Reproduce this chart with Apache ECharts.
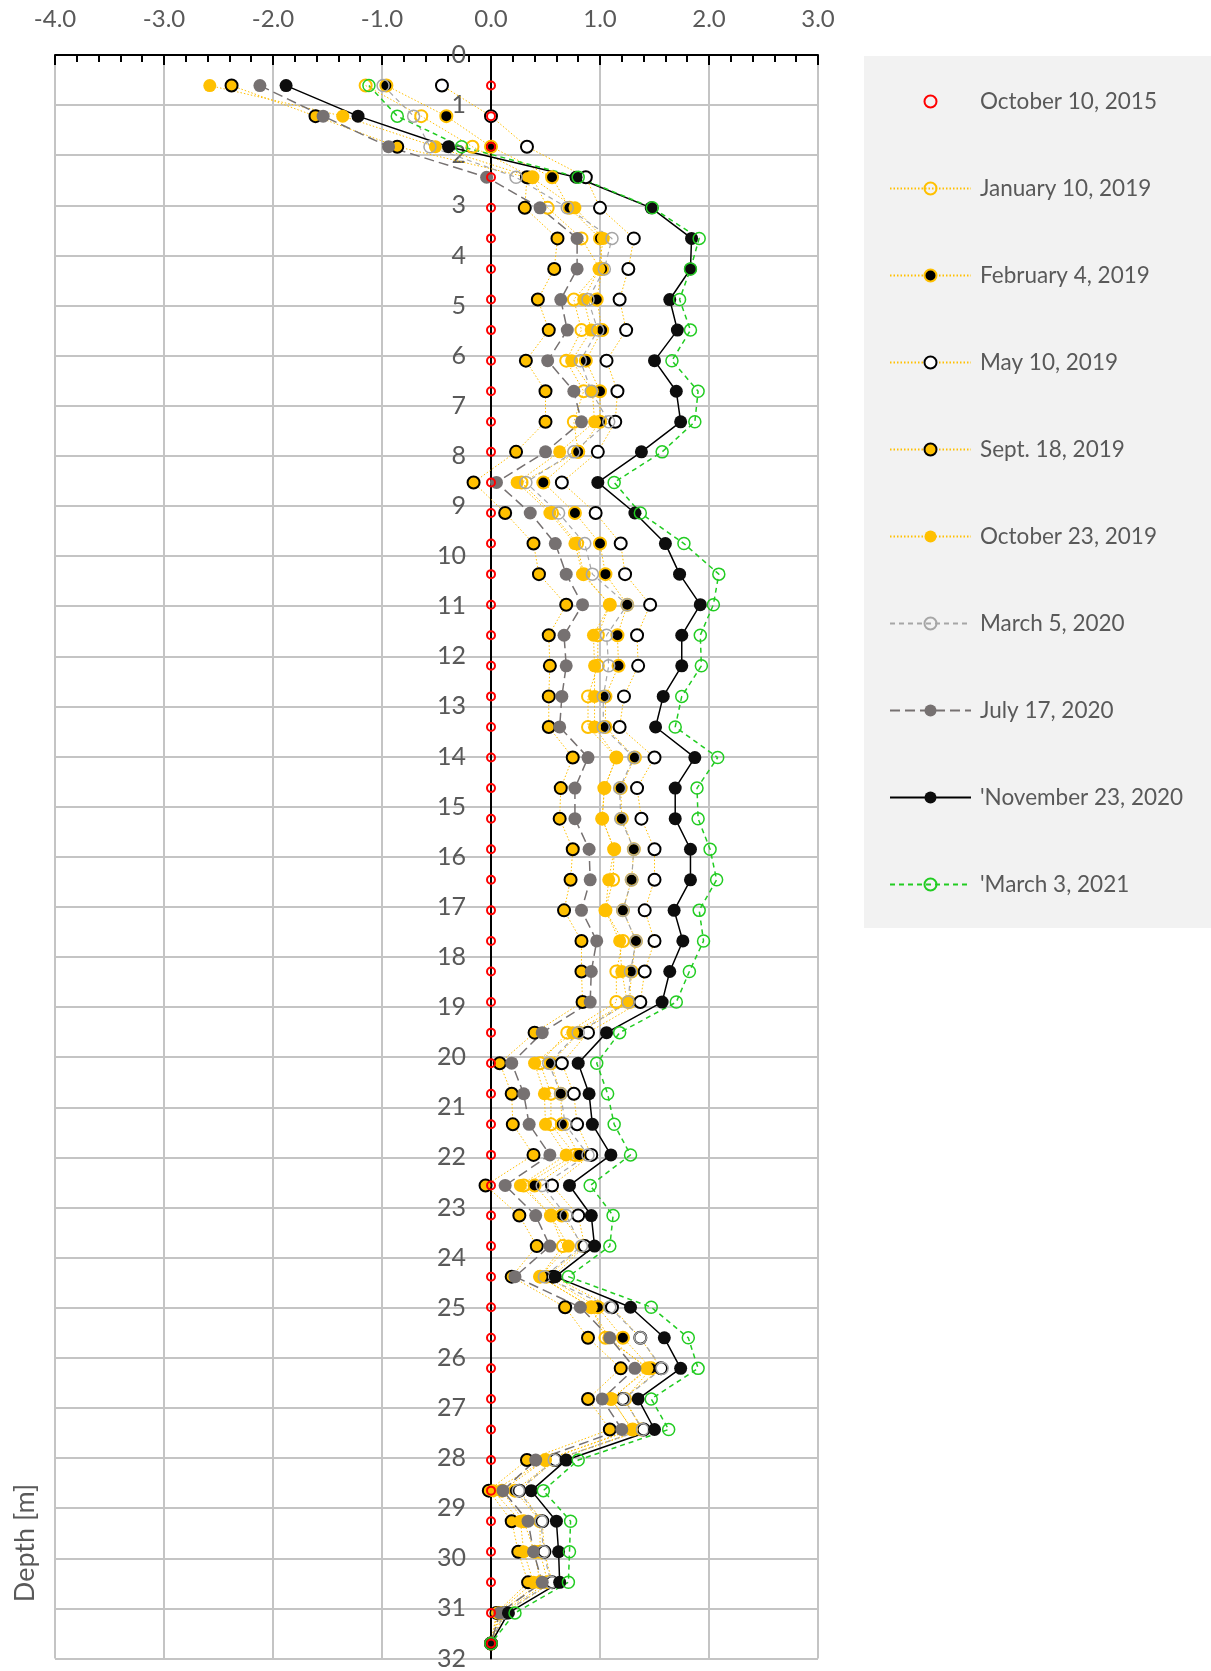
<!DOCTYPE html>
<html>
<head>
<meta charset="utf-8">
<script src="https://cdn.jsdelivr.net/npm/echarts@6/dist/echarts.min.js"></script>
<style>
  html, body { margin: 0; padding: 0; background: #fff; }
  #main { width: 1211px; height: 1671px; }
</style>
</head>
<body>
<div id="main"></div>
<script>
// depth of each reading [m]
var depths = [0.61, 1.22, 1.83, 2.44, 3.05, 3.66, 4.27, 4.88, 5.49, 6.10,
  6.71, 7.32, 7.92, 8.53, 9.14, 9.75, 10.36, 10.97, 11.58, 12.19,
  12.80, 13.41, 14.02, 14.63, 15.24, 15.85, 16.46, 17.07, 17.68, 18.29,
  18.90, 19.51, 20.12, 20.73, 21.34, 21.95, 22.56, 23.16, 23.77, 24.38,
  24.99, 25.60, 26.21, 26.82, 27.43, 28.04, 28.65, 29.26, 29.87, 30.48,
  31.09, 31.70];

var xTicks = [-4, -3, -2, -1, 0, 1, 2, 3];

var oct2015 = [0, 0, 0, 0, 0, 0, 0, 0, 0, 0, 0, 0, 0, 0, 0, 0, 0, 0, 0, 0,
  0, 0, 0, 0, 0, 0, 0, 0, 0, 0, 0, 0, 0, 0, 0, 0, 0, 0, 0, 0,
  0, 0, 0, 0, 0, 0, 0, 0, 0, 0, 0, 0];
var jan2019 = [-1.15, -0.64, -0.17, 0.38, 0.52, 0.83, 1.00, 0.76, 0.83, 0.69,
  0.85, 0.76, 0.80, 0.28, 0.56, 0.79, 0.85, 1.09, 0.98, 0.98,
  0.89, 0.89, 1.15, 1.04, 1.02, 1.13, 1.12, 1.05, 1.21, 1.15,
  1.15, 0.70, 0.45, 0.55, 0.55, 0.77, 0.30, 0.55, 0.66, 0.45,
  0.92, 1.05, 1.45, 1.10, 1.30, 0.50, 0.10, 0.30, 0.40, 0.45,
  0.08, 0];
var feb2019 = [-0.96, -0.41, 0.00, 0.56, 0.72, 1.00, 1.02, 0.97, 1.02, 0.87,
  1.00, 1.00, 0.80, 0.48, 0.77, 1.00, 1.05, 1.25, 1.16, 1.17,
  1.05, 1.05, 1.32, 1.19, 1.20, 1.31, 1.29, 1.21, 1.33, 1.29,
  1.27, 0.81, 0.55, 0.64, 0.65, 0.81, 0.40, 0.65, 0.85, 0.51,
  0.98, 1.21, 1.47, 1.23, 1.38, 0.58, 0.22, 0.45, 0.45, 0.52,
  0.10, 0];
var may2019 = [-0.45, 0.00, 0.33, 0.87, 1.00, 1.31, 1.26, 1.18, 1.24, 1.06,
  1.16, 1.14, 0.98, 0.65, 0.96, 1.19, 1.23, 1.46, 1.34, 1.35,
  1.22, 1.18, 1.50, 1.34, 1.38, 1.50, 1.50, 1.41, 1.50, 1.41,
  1.37, 0.89, 0.65, 0.76, 0.79, 0.92, 0.56, 0.80, 0.86, 0.57,
  1.11, 1.37, 1.56, 1.21, 1.40, 0.59, 0.26, 0.47, 0.49, 0.56,
  0.13, 0];
var sep2019 = [-2.38, -1.61, -0.86, 0.33, 0.31, 0.61, 0.58, 0.43, 0.53, 0.32,
  0.50, 0.50, 0.23, -0.16, 0.13, 0.39, 0.44, 0.69, 0.53, 0.54,
  0.53, 0.53, 0.75, 0.64, 0.63, 0.75, 0.73, 0.67, 0.83, 0.83,
  0.84, 0.40, 0.08, 0.19, 0.20, 0.39, -0.05, 0.26, 0.42, 0.19,
  0.68, 0.89, 1.19, 0.89, 1.09, 0.33, -0.02, 0.19, 0.25, 0.34,
  0.05, 0];
var oct2019 = [-2.58, -1.36, -0.51, 0.37, 0.77, 1.03, 0.99, 0.85, 0.92, 0.74,
  0.93, 0.95, 0.63, 0.24, 0.54, 0.77, 0.84, 1.09, 0.94, 0.95,
  0.95, 0.95, 1.15, 1.04, 1.02, 1.13, 1.08, 1.05, 1.18, 1.20,
  1.25, 0.75, 0.40, 0.49, 0.50, 0.69, 0.27, 0.55, 0.71, 0.45,
  0.92, 1.08, 1.43, 1.11, 1.29, 0.50, 0.02, 0.27, 0.30, 0.39,
  0.06, 0];
var mar2020 = [-0.99, -0.71, -0.56, 0.23, 0.70, 1.11, 1.04, 0.89, 0.98, 0.82,
  0.92, 1.08, 0.76, 0.32, 0.62, 0.86, 0.93, 1.25, 1.06, 1.08,
  1.03, 1.03, 1.31, 1.18, 1.19, 1.31, 1.29, 1.21, 1.33, 1.28,
  1.26, 0.80, 0.53, 0.64, 0.68, 0.89, 0.47, 0.69, 0.83, 0.49,
  1.09, 1.37, 1.57, 1.22, 1.39, 0.58, 0.25, 0.46, 0.48, 0.55,
  0.12, 0];
var jul2020 = [-2.12, -1.54, -0.94, -0.04, 0.45, 0.79, 0.79, 0.64, 0.70, 0.52,
  0.76, 0.83, 0.50, 0.05, 0.36, 0.59, 0.69, 0.84, 0.67, 0.69,
  0.65, 0.63, 0.89, 0.77, 0.77, 0.90, 0.91, 0.83, 0.97, 0.92,
  0.91, 0.47, 0.19, 0.30, 0.35, 0.54, 0.13, 0.41, 0.54, 0.22,
  0.82, 1.09, 1.32, 1.02, 1.20, 0.41, 0.11, 0.34, 0.39, 0.47,
  0.08, 0];
var nov2020 = [-1.88, -1.22, -0.39, 0.78, 1.47, 1.84, 1.83, 1.64, 1.71, 1.50,
  1.70, 1.74, 1.38, 0.98, 1.32, 1.60, 1.73, 1.92, 1.75, 1.75,
  1.58, 1.51, 1.87, 1.69, 1.69, 1.83, 1.83, 1.68, 1.76, 1.64,
  1.57, 1.06, 0.80, 0.90, 0.93, 1.10, 0.72, 0.92, 0.95, 0.59,
  1.28, 1.59, 1.74, 1.35, 1.50, 0.69, 0.37, 0.60, 0.62, 0.63,
  0.16, 0];
var mar2021 = [-1.12, -0.86, -0.27, 0.80, 1.48, 1.91, 1.83, 1.73, 1.83, 1.66,
  1.90, 1.87, 1.57, 1.13, 1.37, 1.77, 2.09, 2.04, 1.92, 1.93,
  1.75, 1.69, 2.08, 1.89, 1.90, 2.01, 2.07, 1.91, 1.95, 1.82,
  1.70, 1.18, 0.97, 1.07, 1.13, 1.28, 0.91, 1.12, 1.09, 0.71,
  1.47, 1.81, 1.90, 1.47, 1.63, 0.80, 0.48, 0.73, 0.72, 0.71,
  0.22, 0];

var GOLD = '#FFC000';
var TXT = '#595959';
var FONT = 'Lato, "Noto Sans", sans-serif';

function pts(vals) {
  return vals.map(function (v, i) { return [v, depths[i]]; });
}

function mk(name, vals, size, item, line, z) {
  return {
    name: name,
    type: 'line',
    data: pts(vals),
    symbol: 'circle',
    symbolSize: size,
    showSymbol: true,
    z: z || 2,
    itemStyle: item,
    lineStyle: line,
    emphasis: { disabled: true }
  };
}

var dotted = { color: GOLD, width: 1, type: [1.5, 2] };

var series = [
  mk('January 10, 2019', jan2019, 12, { color: 'transparent', borderColor: GOLD, borderWidth: 2 }, dotted),
  mk('February 4, 2019', feb2019, 12, { color: '#000', borderColor: GOLD, borderWidth: 2 }, dotted),
  mk('May 10, 2019', may2019, 12, { color: '#fff', borderColor: '#000', borderWidth: 2 }, dotted),
  mk('Sept. 18, 2019', sep2019, 12, { color: GOLD, borderColor: '#000', borderWidth: 2 }, dotted),
  mk('October 23, 2019', oct2019, 13, { color: GOLD, borderWidth: 0 }, dotted),
  mk('March 5, 2020', mar2020, 12, { color: 'transparent', borderColor: '#A6A6A6', borderWidth: 1.5 },
     { color: '#A6A6A6', width: 1.2, type: [5, 4] }),
  mk('July 17, 2020', jul2020, 13, { color: '#767171', borderWidth: 0 },
     { color: '#767171', width: 1.5, type: [10, 5] }),
  mk("'November 23, 2020", nov2020, 13, { color: '#0D0D0D', borderWidth: 0 },
     { color: '#000', width: 1.5, type: 'solid' }),
  mk("'March 3, 2021", mar2021, 12, { color: 'transparent', borderColor: '#22CC22', borderWidth: 1.5 },
     { color: '#22CC22', width: 1.5, type: [5, 4] }),
  mk('October 10, 2015', oct2015, 8, { color: 'transparent', borderColor: '#FF0000', borderWidth: 2 },
     { color: '#FF0000', width: 0, opacity: 0 }, 5)
];

var legendNames = ['October 10, 2015', 'January 10, 2019', 'February 4, 2019', 'May 10, 2019',
  'Sept. 18, 2019', 'October 23, 2019', 'March 5, 2020', 'July 17, 2020',
  "'November 23, 2020", "'March 3, 2021"];

var chart = echarts.init(document.getElementById('main'), null, { renderer: 'canvas' });

chart.setOption({
  animation: false,
  backgroundColor: '#fff',
  textStyle: { fontFamily: FONT },
  grid: { left: 55, right: 393, top: 55, bottom: 10, containLabel: false },
  graphic: [
    { type: 'rect', z: -1, shape: { x: 864, y: 56, width: 347, height: 872 }, style: { fill: '#F2F2F2' } },
    { type: 'text', x: 25, y: 1543, rotation: Math.PI / 2,
      style: { text: 'Depth [m]', align: 'center', verticalAlign: 'middle', fill: TXT, fontSize: 27, fontFamily: FONT } }
  ],
  legend: {
    data: legendNames,
    orient: 'vertical',
    left: 884,
    top: 85,
    itemWidth: 81,
    itemHeight: 15,
    itemGap: 64,
    selectedMode: false,
    textStyle: { color: TXT, fontSize: 22.5, lineHeight: 22, fontFamily: FONT, padding: [0, 0, 0, 4] }
  },
  xAxis: {
    type: 'value',
    position: 'top',
    min: xTicks[0],
    max: xTicks[xTicks.length - 1],
    interval: 1,
    axisLine: { onZero: false, lineStyle: { color: '#000', width: 2 } },
    axisTick: { show: true, inside: true, length: 10, lineStyle: { color: '#000', width: 2 } },
    minorTick: { show: true, splitNumber: 5, length: 7, lineStyle: { color: '#000', width: 2 } },
    axisLabel: { color: TXT, fontSize: 24, margin: 24, fontFamily: FONT,
      formatter: function (v) { return v.toFixed(1); } },
    splitLine: { show: true, lineStyle: { color: '#C4C4C4', width: 2 } }
  },
  yAxis: {
    type: 'value',
    inverse: true,
    min: 0,
    max: 32,
    interval: 1,
    offset: -436,
    axisLine: { onZero: false, lineStyle: { color: '#000', width: 2 } },
    axisTick: { show: false },
    axisLabel: { color: TXT, fontSize: 25, margin: 25, fontFamily: FONT },
    splitLine: { show: true, lineStyle: { color: '#C4C4C4', width: 2 } }
  },
  series: series
});
</script>
</body>
</html>
